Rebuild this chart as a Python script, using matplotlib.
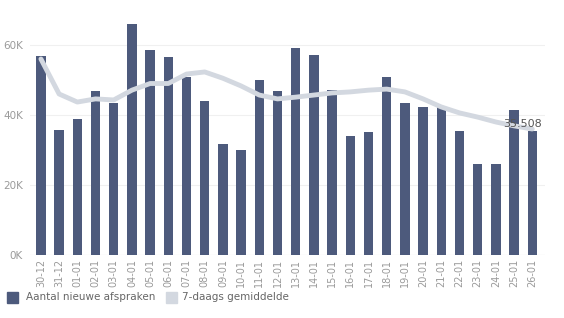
import matplotlib
matplotlib.use("Agg")
import matplotlib.pyplot as plt
from matplotlib.patches import Rectangle

dates = ["30-12", "31-12", "01-01", "02-01", "03-01", "04-01", "05-01", "06-01", "07-01",
         "08-01", "09-01", "10-01", "11-01", "12-01", "13-01", "14-01", "15-01", "16-01",
         "17-01", "18-01", "19-01", "20-01", "21-01", "22-01", "23-01", "24-01", "25-01", "26-01"]
afspraken = [56800, 35700, 38900, 46900, 43400, 66000, 58600, 56500, 50800,
             44000, 31700, 30000, 50000, 46900, 59200, 57100, 47100, 34000,
             35100, 50800, 43400, 42300, 42500, 35500, 26000, 26000, 41400, 35508]
gemiddelde = [56000, 46000, 43700, 44600, 44300, 47100, 49000, 49000, 51700,
              52300, 50500, 48300, 45700, 44600, 45100, 45700, 46300, 46600,
              47100, 47400, 46600, 44600, 42300, 40600, 39400, 38000, 36900, 36000]
yticks = [0, 20000, 40000, 60000]
ytick_labels = ["0K", "20K", "40K", "60K"]
last_label = "35.508"

bar_color = "#4d5a7c"
line_color = "#d3d8e0"
text_color = "#9a9a9a"

fig = plt.figure(figsize=(5.64, 3.18), dpi=100)
ax = fig.add_axes([30/564, 63/318, 515/564, 245/318])

x = list(range(len(dates)))
ax.bar(x, afspraken, width=0.52, color=bar_color, zorder=2)
ax.plot(x, gemiddelde, color=line_color, lw=3.5, solid_capstyle="round", zorder=3)

ax.set_xlim(-0.6, 27.7)
ax.set_ylim(0, 70000)
ax.set_yticks(yticks)
ax.set_yticklabels(ytick_labels, fontsize=7.5, color=text_color)
ax.set_xticks(x)
ax.set_xticklabels(dates, rotation=90, fontsize=7, color=text_color)
ax.tick_params(axis="both", length=0, pad=3)
ax.tick_params(axis="y", pad=5)
for s in ax.spines.values():
    s.set_visible(False)
ax.grid(axis="y", color="#f0f0f0", lw=0.8, zorder=0)
ax.axhline(0, color="#e4e4e4", lw=0.8, zorder=1)

ax.text(x[-1] - 0.55, afspraken[-1] + 500, last_label, fontsize=8, color="#555555",
        ha="center", va="bottom", zorder=4)

# legend
fig.patches.append(Rectangle((7/564, 15/318), 11/564, 11/318, transform=fig.transFigure,
                             color=bar_color))
fig.text(26/564, 20.5/318, "Aantal nieuwe afspraken", fontsize=7.5, color="#666666", va="center")
fig.patches.append(Rectangle((166/564, 15/318), 11/564, 11/318, transform=fig.transFigure,
                             color=line_color))
fig.text(182/564, 20.5/318, "7-daags gemiddelde", fontsize=7.5, color="#666666", va="center")

fig.savefig("out.png", dpi=100)
